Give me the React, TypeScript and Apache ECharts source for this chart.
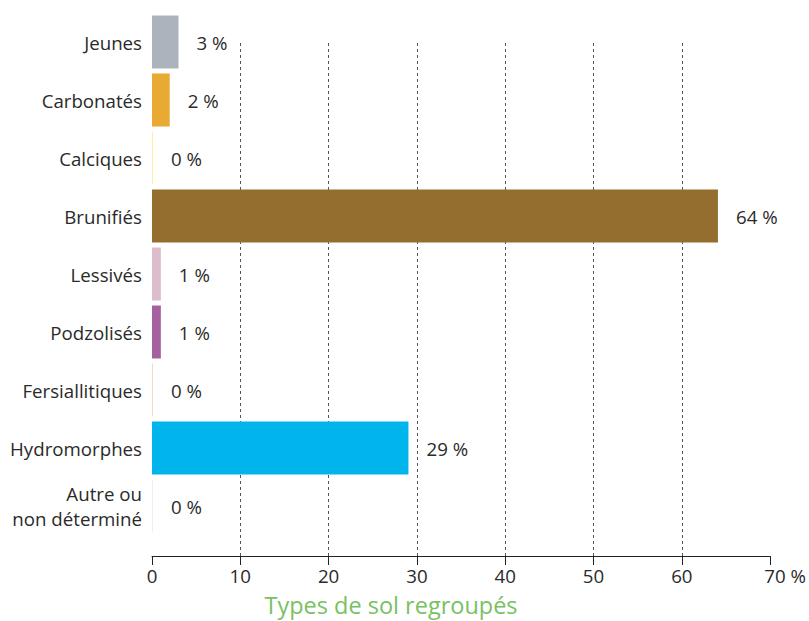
import React, { useEffect, useRef } from "react";
import * as echarts from "echarts";

// Soil types (top to bottom) with their share in percent
const categories = [
  "Jeunes",
  "Carbonatés",
  "Calciques",
  "Brunifiés",
  "Lessivés",
  "Podzolisés",
  "Fersiallitiques",
  "Hydromorphes",
  "Autre ou\nnon déterminé",
];
const values = [3, 2, 0, 64, 1, 1, 0, 29, 0];
const barColors = [
  "#adb3bc",
  "#e8aa32",
  "#fcf0a8",
  "#936e2f",
  "#dcbdcc",
  "#a5609f",
  "#f7d6cb",
  "#00b5ec",
  "#eeeeee",
];
const xTicks = [0, 10, 20, 30, 40, 50, 60, 70];
const axisTitle = "Types de sol regroupés";

const FONT = "'Open Sans', 'Noto Sans', sans-serif";
const TEXT = "#2a2a2a";
const FS = 18.7;

export default function App() {
  const ref = useRef<HTMLDivElement>(null);

  useEffect(() => {
    if (!ref.current) return;
    const chart = echarts.init(ref.current, null, { renderer: "svg" });
    const xMin = xTicks[0];
    const xMax = xTicks[xTicks.length - 1];
    const step = xTicks[1] - xTicks[0];

    chart.setOption({
      animation: false,
      textStyle: { fontFamily: FONT },
      grid: [
        { left: 152, right: 38, top: 13, height: 522 },
        { left: 152, right: 38, top: 43, height: 513 },
      ],
      xAxis: [
        {
          gridIndex: 0,
          type: "value",
          min: xMin,
          max: xMax,
          interval: step,
          show: false,
        },
        {
          gridIndex: 1,
          type: "value",
          min: xMin,
          max: xMax,
          interval: step,
          axisLine: { show: true, lineStyle: { color: "#222", width: 1 } },
          axisTick: { show: true, length: 9, lineStyle: { color: "#222" } },
          axisLabel: {
            color: TEXT,
            fontSize: FS,
            fontFamily: FONT,
            margin: 10,
            formatter: (v: number) => (v === xMax ? `{p|${v} %}` : `${v}`),
            rich: {
              p: { fontSize: FS, fontFamily: FONT, color: TEXT, padding: [0, 0, 0, 30] },
            },
          },
          splitLine: {
            show: true,
            showMinLine: false,
            showMaxLine: false,
            lineStyle: { color: "#555", type: [3, 3], width: 1 },
          },
        },
      ],
      yAxis: [
        {
          gridIndex: 0,
          type: "category",
          inverse: true,
          data: categories,
          axisLine: { show: false },
          axisTick: { show: false },
          axisLabel: {
            color: TEXT,
            fontSize: FS,
            fontFamily: FONT,
            margin: 10,
            lineHeight: 25,
            align: "right",
          },
        },
        {
          gridIndex: 1,
          type: "value",
          show: false,
        },
      ],
      series: [
        {
          type: "bar",
          xAxisIndex: 0,
          yAxisIndex: 0,
          barWidth: 53,
          barMinHeight: 1,
          data: values.map((v, i) => ({
            value: v,
            itemStyle: { color: barColors[i] },
          })),
          label: {
            show: true,
            position: "right",
            distance: 18,
            color: TEXT,
            fontSize: FS,
            fontFamily: FONT,
            formatter: (p: any) => `${p.value} %`,
          },
        },
      ],
      graphic: [
        {
          type: "text",
          x: 391,
          y: 605,
          style: {
            text: axisTitle,
            fill: "#78c162",
            fontSize: 23.5,
            fontFamily: FONT,
            align: "center",
            verticalAlign: "middle",
          },
        },
      ],
    });

    return () => chart.dispose();
  }, []);

  return <div ref={ref} style={{ width: 809, height: 621, position: "absolute", left: 0, top: 0 }} />;
}
